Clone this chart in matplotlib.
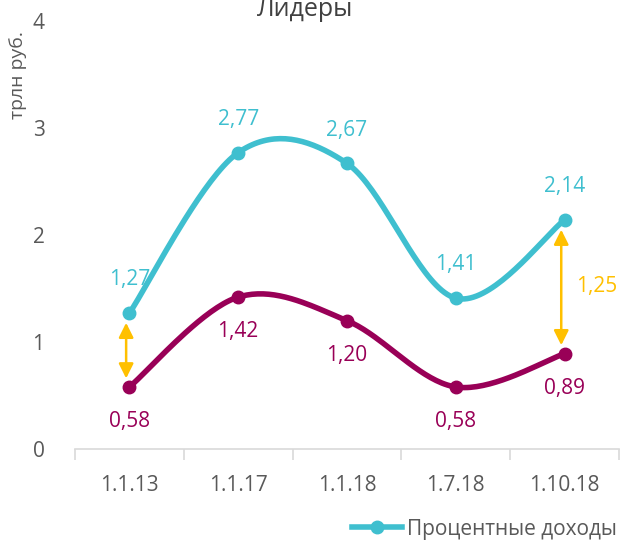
import matplotlib.pyplot as plt
import numpy as np

plt.rcParams['font.family'] = ['Open Sans', 'DejaVu Sans']

dates = ['1.1.13', '1.1.17', '1.1.18', '1.7.18', '1.10.18']
interest = [1.27, 2.77, 2.67, 1.41, 2.14]
other = [0.58, 1.42, 1.20, 0.58, 0.89]
gap_idx = [0, 4]
gap_text = ['', '1,25']

teal = '#3FBFCF'
plum = '#990057'
gold = '#FFC000'
grey = '#595959'


def smooth(y, n=40):
    # excel-like smoothed line: cubic bezier with catmull-rom tangents
    x = np.arange(len(y), dtype=float)
    y = np.asarray(y, dtype=float)
    pts = np.column_stack([x, y])
    xs, ys = [], []
    for i in range(len(pts) - 1):
        p0 = pts[max(i - 1, 0)]
        p1 = pts[i]
        p2 = pts[i + 1]
        p3 = pts[min(i + 2, len(pts) - 1)]
        c1 = p1 + (p2 - p0) / 6
        c2 = p2 - (p3 - p1) / 6
        t = np.linspace(0, 1, n)[:, None]
        b = (1 - t) ** 3 * p1 + 3 * (1 - t) ** 2 * t * c1 + 3 * (1 - t) * t ** 2 * c2 + t ** 3 * p2
        xs.append(b[:, 0])
        ys.append(b[:, 1])
    return np.concatenate(xs), np.concatenate(ys)


fig = plt.figure(figsize=(6.22, 5.54), dpi=100)
ax = fig.add_axes([0.1206, 0.1895, 0.8744, 0.7725])

x = np.arange(len(dates))
sx, sy = smooth(interest)
ax.plot(sx, sy, color=teal, lw=4, solid_capstyle='round', zorder=3)
ax.plot(x, interest, 'o', color=teal, ms=9, zorder=4)
sx, sy = smooth(other)
ax.plot(sx, sy, color=plum, lw=4, solid_capstyle='round', zorder=3)
ax.plot(x, other, 'o', color=plum, ms=9, zorder=4)

for i in x:
    ax.annotate(f'{interest[i]:.2f}'.replace('.', ','), (i, interest[i]), xytext=(0, 24),
                textcoords='offset points', ha='center', va='center', color=teal, fontsize=15)
    ax.annotate(f'{other[i]:.2f}'.replace('.', ','), (i, other[i]), xytext=(0, -25),
                textcoords='offset points', ha='center', va='center', color=plum, fontsize=15)

for i, t in zip(gap_idx, gap_text):
    xi = i - 0.03
    ax.annotate('', xy=(xi, interest[i] - 0.09), xytext=(xi, other[i] + 0.08),
                arrowprops=dict(arrowstyle='<|-|>', color=gold, lw=1.8,
                                mutation_scale=22, shrinkA=0, shrinkB=0), zorder=2)
    if t:
        ax.text(i + 0.3, (interest[i] + other[i]) / 2, t, color=gold, fontsize=15,
                ha='center', va='center')

ax.set_xlim(-0.5, 4.5)
ax.set_ylim(0, 4)
ax.set_yticks([0, 1, 2, 3, 4])
ax.set_xticks(x)
ax.set_xticklabels(dates)
ax.set_xticks(np.arange(-0.5, 5, 1), minor=True)
ax.tick_params(axis='x', which='major', length=0, pad=19, labelsize=15, labelcolor=grey)
ax.tick_params(axis='x', which='minor', length=8, color='#D9D9D9', width=1.2)
ax.tick_params(axis='y', length=0, pad=22, labelsize=15, labelcolor=grey)
for s in ['top', 'right', 'left']:
    ax.spines[s].set_visible(False)
ax.spines['bottom'].set_color('#D9D9D9')
ax.spines['bottom'].set_linewidth(1.2)

fig.text(18 / 622, 1 - 75 / 554, 'трлн руб.', rotation=90, ha='center', va='center',
         color=grey, fontsize=14)
fig.text(305 / 622, 1 - 9 / 554, 'Лидеры', ha='center', va='center', color='#404040', fontsize=18)

fig.legend(handles=[plt.Line2D([], [], color=teal, lw=4, marker='o', ms=9)],
           labels=['Процентные доходы'], loc='lower left', bbox_to_anchor=(0.535, -0.008),
           frameon=False, fontsize=15, handlelength=2.4, handletextpad=0.25, labelcolor=grey)

fig.savefig('out.png', dpi=100)
